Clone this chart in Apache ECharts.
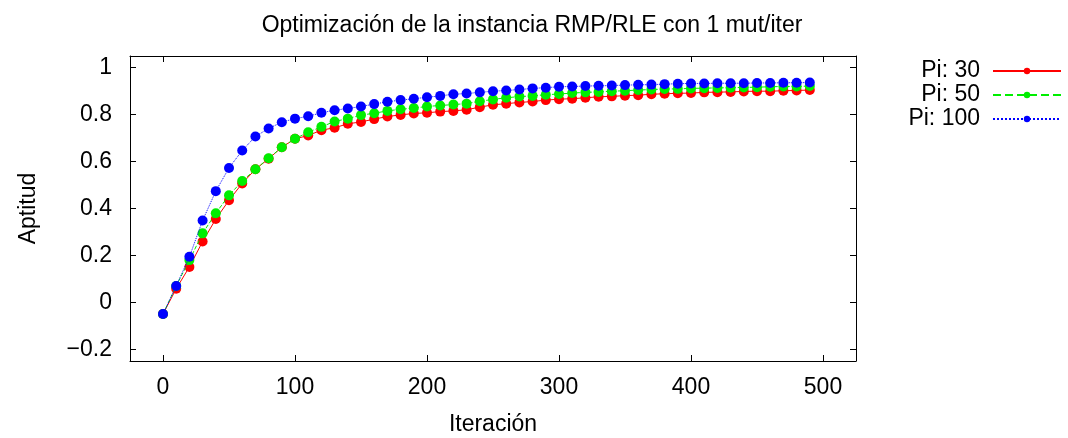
<!DOCTYPE html>
<html>
<head>
<meta charset="utf-8">
<script src="https://cdn.jsdelivr.net/npm/echarts@6/dist/echarts.min.js"></script>
<style>
html,body{margin:0;padding:0;background:#fff;}
#chart{width:1068px;height:438px;}
</style>
</head>
<body>
<div id="chart"></div>
<script>
const iterations = [0,10,20,30,40,50,60,70,80,90,100,110,120,130,140,150,160,170,180,190,200,210,220,230,240,250,260,270,280,290,300,310,320,330,340,350,360,370,380,390,400,410,420,430,440,450,460,470,480,490];
const pi30 = [-0.05,0.058,0.151,0.259,0.355,0.435,0.507,0.567,0.612,0.661,0.697,0.711,0.734,0.744,0.761,0.769,0.781,0.792,0.799,0.805,0.808,0.813,0.816,0.821,0.832,0.842,0.847,0.852,0.856,0.862,0.866,0.868,0.872,0.876,0.878,0.881,0.883,0.887,0.889,0.891,0.892,0.895,0.896,0.897,0.899,0.900,0.900,0.902,0.903,0.905];
const pi50 = [-0.05,0.070,0.180,0.294,0.380,0.456,0.517,0.567,0.614,0.661,0.697,0.725,0.748,0.771,0.783,0.798,0.806,0.816,0.823,0.828,0.835,0.839,0.843,0.847,0.857,0.865,0.872,0.877,0.880,0.885,0.888,0.892,0.895,0.897,0.900,0.902,0.905,0.907,0.909,0.910,0.912,0.913,0.914,0.915,0.916,0.917,0.919,0.920,0.920,0.922];
const pi100 = [-0.05,0.070,0.194,0.349,0.474,0.573,0.647,0.707,0.741,0.768,0.783,0.793,0.808,0.819,0.826,0.835,0.845,0.855,0.862,0.868,0.874,0.880,0.887,0.890,0.895,0.900,0.903,0.907,0.912,0.915,0.919,0.920,0.922,0.923,0.924,0.926,0.927,0.928,0.930,0.932,0.933,0.933,0.934,0.934,0.934,0.935,0.935,0.936,0.936,0.937];
const seriesNames = ['Pi: 30','Pi: 50','Pi: 100'];
const seriesColors = ['#ff0000','#00ee00','#0000ff'];
const lineTypes = ['solid','dashed','dotted'];
const titleText = 'Optimización de la instancia RMP/RLE con 1 mut/iter';
const xName = 'Iteración';
const yName = 'Aptitud';

const FONT = "'Liberation Sans', Arial, sans-serif";
const FS = 23;
const chart = echarts.init(document.getElementById('chart'), null, {renderer:'canvas'});
const allVals = [pi30, pi50, pi100];

const axisCommon = {
  axisLine:{show:true, onZero:false, lineStyle:{color:'#000', width:1}},
  axisTick:{show:true, inside:true, length:6, lineStyle:{color:'#000'}},
  splitLine:{show:false}
};
const fmtY = v => (Math.round(v*10)/10).toString().replace('-', '\u2212');

chart.setOption({
  animation:false,
  backgroundColor:'#fff',
  title:{text:titleText, left:527, textAlign:'center', top:9,
    textStyle:{fontFamily:FONT, fontSize:23, fontWeight:'normal', color:'#000'}},
  legend:{
    orient:'vertical', right:6, top:59, align:'right', padding:0,
    itemWidth:68, itemHeight:8, itemGap:0,
    textStyle:{fontFamily:FONT, fontSize:FS, color:'#000', lineHeight:24, padding:[0,8,0,0]},
    data:seriesNames
  },
  grid:{left:130, right:212, top:56, bottom:77, containLabel:false, outerBoundsMode:'none'},
  xAxis:[
    Object.assign({}, axisCommon, {type:'value', min:-25, max:525, splitNumber:5,
      name:xName, nameLocation:'middle', nameGap:52,
      nameTextStyle:{fontFamily:FONT, fontSize:FS, color:'#000'},
      axisLabel:{fontFamily:FONT, fontSize:FS, color:'#000', margin:15, showMinLabel:false, showMaxLabel:false}}),
    Object.assign({}, axisCommon, {type:'value', min:-25, max:525, splitNumber:5, position:'top',
      axisLabel:{show:false}})
  ],
  yAxis:[
    Object.assign({}, axisCommon, {type:'value', min:-0.25, max:1.05, splitNumber:6,
      name:yName, nameLocation:'middle', nameGap:90, nameRotate:90,
      nameTextStyle:{fontFamily:FONT, fontSize:FS, color:'#000'},
      axisLabel:{fontFamily:FONT, fontSize:FS, color:'#000', margin:18, showMinLabel:false, showMaxLabel:false, formatter:fmtY}}),
    Object.assign({}, axisCommon, {type:'value', min:-0.25, max:1.05, splitNumber:6, position:'right',
      axisLabel:{show:false}})
  ],
  series: seriesNames.map((name,k)=>({
    name:name, type:'line',
    data: iterations.map((x,i)=>[x, allVals[k][i]]),
    symbol:'circle', symbolSize:10,
    itemStyle:{color:seriesColors[k]},
    lineStyle:{color:seriesColors[k], width:1, type:lineTypes[k]},
    z: 2 + k
  }))
});
</script>
</body>
</html>
